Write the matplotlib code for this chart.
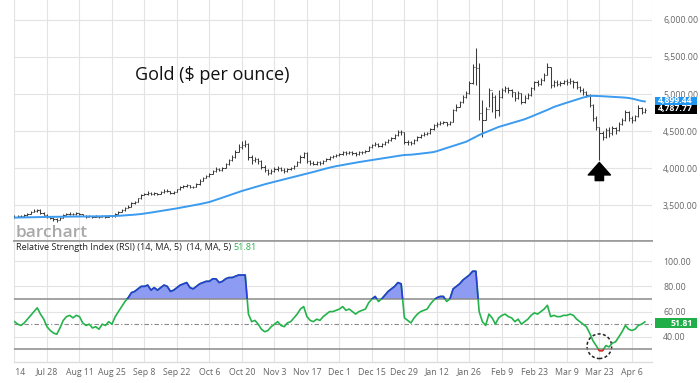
import numpy as np
import pandas as pd
import matplotlib
matplotlib.use("Agg")
import matplotlib.pyplot as plt
from matplotlib.patches import Rectangle, Ellipse
from matplotlib.transforms import Bbox, TransformedBbox

plt.rcParams['font.family'] = ['Open Sans', 'DejaVu Sans']

# daily bars, Jul 14 2025 -> Apr 10 2026 (trading days)
dates = pd.bdate_range('2025-07-14', periods=195)

closes = [
    3340, 3355, 3350, 3360, 3385, 3405, 3420, 3433, 3395, 3370,
    3338, 3320, 3310, 3298, 3330, 3365, 3380, 3385, 3375, 3390,
    3380, 3355, 3345, 3350, 3340, 3345, 3338, 3350, 3345, 3355,
    3350, 3380, 3405, 3430, 3460, 3480, 3528, 3545, 3590, 3640,
    3650, 3663, 3645, 3660, 3650, 3670, 3695, 3690, 3665, 3676,
    3710, 3740, 3757, 3770, 3745, 3744, 3780, 3830, 3865, 3890,
    3920, 3960, 3990, 3975, 4000, 4050, 4108, 4150, 4220, 4284,
    4310, 4330, 4150, 4108, 4120, 4095, 4020, 3973, 3930, 3960,
    3990, 4000, 3973, 3960, 3990, 4000, 4030, 4081, 4150, 4203,
    4095, 4070, 4060, 4081, 4070, 4100, 4122, 4150, 4160, 4176,
    4190, 4216, 4200, 4210, 4203, 4190, 4210, 4216, 4230, 4280,
    4311, 4330, 4300, 4324, 4350, 4380, 4406, 4440, 4487, 4480,
    4352, 4345, 4338, 4380, 4420, 4446, 4460, 4473, 4530, 4581,
    4595, 4608, 4620, 4590, 4622, 4784, 4830, 4892, 4960, 5014,
    5149, 5365, 5350, 4750, 4650, 4800, 5054, 4960, 4784, 4960,
    5054, 5081, 5050, 5027, 4946, 5014, 4892, 4950, 4987, 5081,
    5162, 5140, 5189, 5257, 5365, 5122, 5162, 5140, 5149, 5170,
    5162, 5180, 5162, 5095, 5060, 5027, 4987, 4852, 4676, 4555,
    4473, 4419, 4514, 4473, 4541, 4514, 4600, 4649, 4757, 4676,
    4649, 4700, 4811, 4757, 4787.77,
]
highs = [
    3365, 3370, 3368, 3375, 3395, 3415, 3440, 3450, 3440, 3400,
    3375, 3345, 3335, 3320, 3340, 3375, 3395, 3400, 3395, 3400,
    3398, 3385, 3362, 3365, 3358, 3360, 3355, 3362, 3360, 3365,
    3365, 3390, 3418, 3445, 3470, 3495, 3540, 3560, 3600, 3655,
    3665, 3685, 3670, 3678, 3668, 3685, 3710, 3715, 3695, 3690,
    3720, 3755, 3775, 3790, 3775, 3760, 3795, 3845, 3880, 3905,
    3935, 3975, 4010, 4005, 4020, 4065, 4125, 4170, 4240, 4330,
    4360, 4379, 4340, 4180, 4150, 4140, 4110, 4040, 3990, 3985,
    4010, 4025, 4015, 3995, 4005, 4020, 4045, 4100, 4170, 4215,
    4210, 4110, 4090, 4095, 4095, 4115, 4135, 4165, 4180, 4190,
    4205, 4235, 4230, 4228, 4225, 4215, 4225, 4235, 4250, 4295,
    4330, 4350, 4340, 4340, 4365, 4395, 4420, 4460, 4510, 4520,
    4485, 4385, 4370, 4395, 4435, 4465, 4480, 4490, 4545, 4600,
    4615, 4630, 4640, 4625, 4640, 4800, 4860, 4910, 4985, 5040,
    5180, 5400, 5622, 5419, 4919, 4825, 5081, 5027, 4987, 5054,
    5080, 5110, 5095, 5070, 5030, 5040, 5020, 4980, 5010, 5095,
    5180, 5185, 5210, 5280, 5419, 5370, 5190, 5185, 5175, 5195,
    5200, 5215, 5195, 5170, 5110, 5075, 5040, 5000, 4870, 4700,
    4560, 4500, 4540, 4550, 4570, 4560, 4620, 4680, 4780, 4770,
    4700, 4720, 4850, 4830, 4810,
]
lows = [
    3325, 3335, 3335, 3340, 3355, 3380, 3400, 3412, 3385, 3360,
    3325, 3305, 3280, 3268, 3295, 3325, 3360, 3370, 3360, 3370,
    3368, 3348, 3330, 3335, 3325, 3332, 3325, 3335, 3330, 3340,
    3338, 3345, 3375, 3400, 3425, 3455, 3475, 3520, 3540, 3585,
    3630, 3640, 3630, 3640, 3635, 3645, 3665, 3675, 3650, 3655,
    3670, 3705, 3730, 3745, 3730, 3725, 3740, 3775, 3820, 3860,
    3880, 3915, 3950, 3955, 3965, 3995, 4045, 4100, 4140, 4210,
    4260, 4290, 4110, 4060, 4075, 4050, 3990, 3940, 3906, 3920,
    3950, 3965, 3955, 3935, 3950, 3970, 3990, 4025, 4070, 4140,
    4070, 4040, 4035, 4045, 4045, 4060, 4090, 4115, 4135, 4150,
    4160, 4180, 4180, 4185, 4180, 4165, 4180, 4195, 4200, 4225,
    4270, 4295, 4280, 4290, 4315, 4340, 4370, 4395, 4430, 4450,
    4330, 4315, 4310, 4330, 4370, 4405, 4430, 4445, 4465, 4520,
    4560, 4580, 4595, 4570, 4585, 4620, 4770, 4820, 4880, 4940,
    5000, 5140, 5122, 4649, 4419, 4649, 4825, 4757, 4676, 4700,
    4950, 5030, 5010, 4960, 4900, 4930, 4870, 4880, 4930, 4975,
    5060, 5110, 5120, 5180, 5250, 5080, 5100, 5110, 5105, 5130,
    5120, 5140, 5080, 5070, 5030, 4990, 4960, 4820, 4640, 4520,
    4108, 4380, 4400, 4420, 4440, 4460, 4500, 4580, 4640, 4640,
    4610, 4640, 4690, 4735, 4745,
]
ma100 = [
    3330, 3331, 3332, 3333, 3334, 3335, 3336, 3337, 3338, 3339,
    3340, 3340, 3341, 3341, 3342, 3342, 3343, 3343, 3344, 3344,
    3345, 3345, 3346, 3346, 3347, 3347, 3348, 3348, 3349, 3349,
    3350, 3352, 3354, 3357, 3360, 3363, 3366, 3370, 3374, 3379,
    3385, 3391, 3398, 3405, 3412, 3419, 3426, 3433, 3440, 3448,
    3455, 3463, 3471, 3479, 3487, 3495, 3503, 3512, 3521, 3531,
    3541, 3555, 3570, 3585, 3600, 3615, 3630, 3645, 3660, 3676,
    3690, 3703, 3716, 3729, 3742, 3755, 3768, 3780, 3792, 3803,
    3814, 3825, 3836, 3847, 3858, 3869, 3880, 3891, 3902, 3913,
    3924, 3935, 3947, 3959, 3971, 3983, 3995, 4006, 4016, 4025,
    4033, 4041, 4049, 4057, 4065, 4073, 4080, 4087, 4094, 4101,
    4108, 4115, 4122, 4129, 4136, 4143, 4150, 4157, 4163, 4170,
    4176, 4178, 4180, 4184, 4189, 4194, 4199, 4204, 4210, 4216,
    4228, 4242, 4256, 4270, 4284, 4298, 4312, 4326, 4340, 4355,
    4378, 4400, 4422, 4446, 4465, 4483, 4501, 4519, 4537, 4555,
    4568, 4581, 4594, 4607, 4620, 4633, 4646, 4659, 4676, 4694,
    4712, 4730, 4748, 4766, 4785, 4805, 4825, 4840, 4855, 4869,
    4883, 4897, 4910, 4925, 4940, 4952, 4963, 4973, 4975, 4974,
    4972, 4970, 4967, 4964, 4961, 4959, 4957, 4954, 4951, 4946,
    4938, 4928, 4916, 4906, 4899.44,
]
rsi = [
    52, 50, 49, 51, 54, 57, 60, 63, 58, 54,
    48, 45, 43, 42, 47, 53, 56, 57, 55, 57,
    56, 51, 49, 50, 47, 48, 46, 50, 49, 52,
    50, 56, 60, 64, 68, 71, 75, 76, 78, 80,
    80, 81, 77, 79, 77, 79, 81, 80, 76, 77,
    79, 81, 82, 83, 79, 78, 80, 82, 83, 84,
    84, 86, 86, 83, 84, 86, 87, 87, 88, 89,
    89, 89, 58, 52, 53, 50, 46, 44, 45, 48,
    50, 52, 49, 48, 51, 52, 55, 58, 62, 64,
    56, 53, 52, 54, 53, 56, 58, 60, 60, 61,
    62, 64, 61, 62, 60, 58, 60, 61, 62, 67,
    70, 72, 68, 70, 73, 76, 78, 80, 83, 82,
    55, 53, 51, 55, 58, 60, 61, 62, 66, 69,
    71, 72, 72, 68, 70, 78, 80, 82, 85, 87,
    89, 92, 92, 60, 52, 49, 58, 55, 50, 55,
    57, 58, 56, 55, 52, 54, 50, 52, 54, 57,
    59, 58, 60, 62, 65, 56, 57, 56, 56, 57,
    57, 58, 57, 54, 52, 50, 48, 43, 37, 33,
    29, 29, 33, 32, 35, 36, 40, 44, 49, 46,
    45, 46, 49, 50, 51.81,
]

tick_dates = ['2025-07-14', '2025-07-28', '2025-08-11', '2025-08-25', '2025-09-08',
              '2025-09-22', '2025-10-06', '2025-10-20', '2025-11-03', '2025-11-17',
              '2025-12-01', '2025-12-15', '2025-12-29', '2026-01-12', '2026-01-26',
              '2026-02-09', '2026-02-23', '2026-03-09', '2026-03-23', '2026-04-06']
tick_labels = ['Jul 14', 'Jul 28', 'Aug 11', 'Aug 25', 'Sep 8', 'Sep 22', 'Oct 6',
               'Oct 20', 'Nov 3', 'Nov 17', 'Dec 1', 'Dec 15', 'Dec 29', 'Jan 12',
               'Jan 26', 'Feb 9', 'Feb 23', 'Mar 9', 'Mar 23', 'Apr 6']
price_ticks = [3500, 4000, 4500, 5000, 5500, 6000]
rsi_ticks = [40, 60, 80, 100]

closes = np.array(closes, dtype=float)
highs = np.array(highs, dtype=float)
lows = np.array(lows, dtype=float)
rsi = np.array(rsi, dtype=float)
opens = np.r_[closes[0], closes[:-1]]
x = np.arange(len(dates))
tick_pos = dates.searchsorted(pd.to_datetime(tick_dates))

grid_c = '#e3e3e3'
label_c = '#666666'
bar_c = '#3a3a3a'
W, H = 700, 383

fig = plt.figure(figsize=(7, 3.83), dpi=100)
ax = fig.add_axes([14 / W, 1 - 241 / H, 638 / W, 241 / H])
ax2 = fig.add_axes([14 / W, 1 - 362 / H, 638 / W, 121 / H], sharex=ax)

for a in (ax, ax2):
    for s in a.spines.values():
        s.set_visible(False)
    a.set_xticks(tick_pos)
    a.grid(True, color=grid_c, lw=0.8)
    a.set_axisbelow(True)
    a.tick_params(length=0, labelsize=6.3, labelcolor=label_c,
                  left=False, labelleft=False, right=False, labelright=True, pad=8)
    a.axvline(196.2, color='#d6d6d6', lw=0.8)

ax.set_xlim(-0.15, 196.2)

# price panel: OHLC bars + moving average
ax.vlines(x, lows, highs, color=bar_c, lw=0.75)
ax.hlines(opens, x - 0.4, x, color=bar_c, lw=0.75)
ax.hlines(closes, x, x + 0.4, color=bar_c, lw=0.75)
ax.plot(x, ma100, color='#3a9bf0', lw=1.4)

ax.set_ylim(3014, 6270)
ax.set_yticks(price_ticks)
ax.set_yticklabels([f'{v:,.2f}' for v in price_ticks])
ax.tick_params(axis='x', labelbottom=False)
ax.axhline(3014, color='#999999', lw=1.2, clip_on=False)

fig.text(135 / W, 1 - 75 / H, 'Gold ($ per ounce)', fontsize=13, color='#111111', va='center')
fig.text(16 / W, 1 - 237 / H, 'barchart', fontsize=12.5, color='#a9a9a9',
         fontweight='semibold', va='baseline')

# arrow under the Mar 23 low
ax.annotate('', xy=(180, 4075), xytext=(180, 3830),
            arrowprops=dict(facecolor='black', edgecolor='black', width=6,
                            headwidth=16, headlength=9, shrink=0))

# last value tags (stacked so they butt against each other)
for txt, col, y0, y1 in [(f'{ma100[-1]:,.2f}', '#2196f3', 96.5, 104.5),
                         (f'{closes[-1]:,.2f}', '#000000', 104.5, 113.5),
                         (f'{rsi[-1]:.2f}', '#1fae48', 318, 328)]:
    fig.patches.append(Rectangle((655 / W, 1 - y1 / H), 42 / W, (y1 - y0) / H,
                                 transform=fig.transFigure, fc=col, ec='none'))
    fig.text(693 / W, 1 - (y0 + y1) / 2 / H, txt, fontsize=6.3, color='white',
             fontweight='bold', ha='right', va='center')

# RSI panel
ax2.set_ylim(20, 116)
ax2.set_yticks(rsi_ticks)
ax2.set_yticklabels([f'{v:.2f}' for v in rsi_ticks])
ax2.set_xticklabels(tick_labels)
ax2.tick_params(axis='x', pad=4)
ax2.axhline(70, color='#8a8a8a', lw=1.1)
ax2.axhline(30, color='#8a8a8a', lw=1.1)
ax2.axhline(50, color='#8a8a8a', lw=0.8, ls=(0, (4, 2, 1, 2)))
ax2.axhline(116, color='#9a9a9a', lw=1.2, clip_on=False)
ax2.axhline(20, color='#dddddd', lw=1.0, clip_on=False)

# first label is cut at the chart's left edge like the original
first = ax2.get_xticklabels()[0]
first.set_clip_box(TransformedBbox(Bbox([[14 / W, 0], [1, 1]]), fig.transFigure))
first.set_clip_on(True)

ax2.fill_between(x, rsi, 70, where=rsi > 70, interpolate=True, color='#8d9cf2', lw=0)
ax2.plot(x, rsi, color='#25b34b', lw=1.2)
hi_line, = ax2.plot(x, rsi, color='#2a3bd8', lw=1.2)
hi_line.set_clip_path(Rectangle((-5, 70), 210, 60, transform=ax2.transData))
lo_line, = ax2.plot(x, rsi, color='#e8262b', lw=1.2)
lo_line.set_clip_path(Rectangle((-5, 0), 210, 30, transform=ax2.transData))

ax2.add_patch(Ellipse((180, 32.5), 7.6, 19.5, fill=False, ec='#222222', lw=1.1,
                      ls=(0, (2, 1.5))))

t1 = ax2.text(2 / 638, 1 - 7 / 121, 'Relative Strength Index (RSI) (14, MA, 5)  (14, MA, 5) ',
              transform=ax2.transAxes, fontsize=6.6, color='#222222', va='center')
ax2.annotate('51.81', xy=(1, 0.5), xycoords=t1, va='center', fontsize=6.6, color='#25b34b')

fig.savefig('out.png', dpi=100)
